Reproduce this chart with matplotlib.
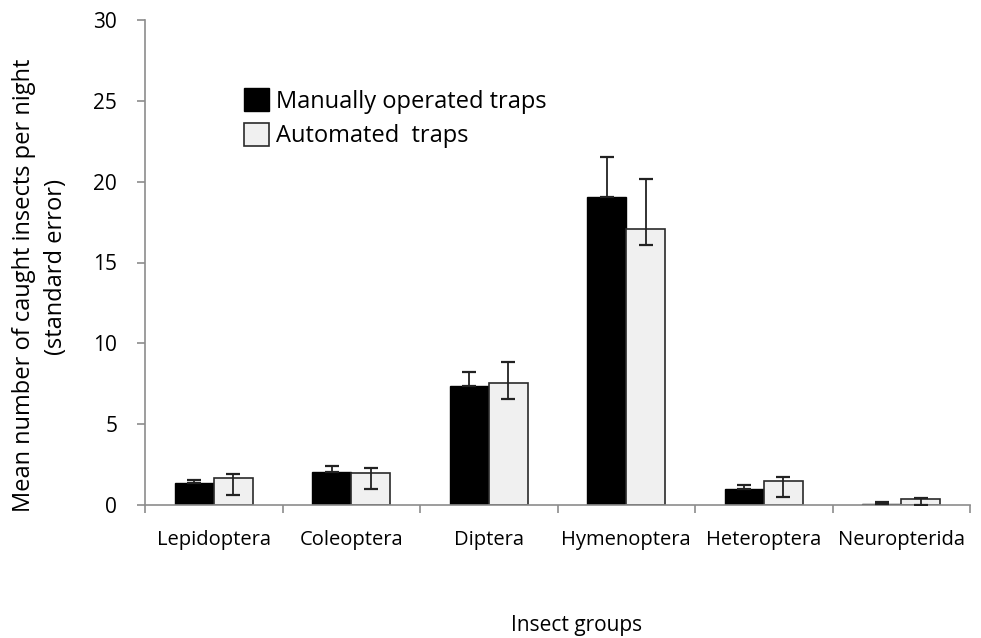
import numpy as np
import matplotlib
matplotlib.use('Agg')
import matplotlib.pyplot as plt

plt.rcParams['font.family'] = ['Open Sans', 'DejaVu Sans']

categories = ['Lepidoptera', 'Coleoptera', 'Diptera', 'Hymenoptera',
              'Heteroptera', 'Neuropterida']
manual = [1.34, 2.04, 7.36, 19.03, 0.99, 0.06]
manual_top = [1.55, 2.39, 8.25, 21.5, 1.26, 0.20]
auto = [1.69, 1.96, 7.56, 17.1, 1.48, 0.35]
auto_top = [1.90, 2.31, 8.82, 20.15, 1.75, 0.43]
auto_bottom = [0.62, 0.97, 6.56, 16.08, 0.47, 0.02]

manual = np.array(manual)
auto = np.array(auto)
man_up = np.array(manual_top) - manual
auto_up = np.array(auto_top) - auto
auto_lo = auto - np.array(auto_bottom)

fig = plt.figure(figsize=(9.81, 6.38), dpi=100)
ax = fig.add_axes([145/981, 1 - 505/638, 825/981, 485/638])

x = np.arange(len(categories)) + 0.5
w = 0.283
axis_col = '#8c8c8c'

ax.bar(x - w/2, manual, w, color='black', edgecolor='black', lw=1.0,
       label='Manually operated traps', zorder=2)
ax.bar(x + w/2, auto, w, color='#f0f0f0', edgecolor='#2a2a2a', lw=1.2,
       label='Automated  traps', zorder=2)
# only the upper half shows over the black bars
ax.errorbar(x - w/2, manual, yerr=[np.zeros_like(man_up), man_up], fmt='none',
            ecolor='#222222', elinewidth=1.3, capsize=5, capthick=1.6, zorder=3)
ax.errorbar(x + w/2, auto, yerr=[auto_lo, auto_up], fmt='none',
            ecolor='#222222', elinewidth=1.3, capsize=5, capthick=1.6, zorder=3)

ax.set_xlim(0, len(categories))
ax.set_ylim(0, 30)
ax.set_yticks(np.arange(0, 31, 5))
ax.set_xticks(np.arange(0, len(categories) + 1))
ax.set_xticklabels([])
ax.set_xticks(x, minor=True)
ax.set_xticklabels(categories, minor=True, fontsize=14.5)
ax.tick_params(axis='x', which='minor', length=0, pad=18)
ax.tick_params(axis='x', which='major', direction='out', length=6,
               color=axis_col, width=1.2)
ax.tick_params(axis='y', direction='out', length=6, color=axis_col,
               width=1.2, labelsize=15, pad=14)

for s in ['top', 'right']:
    ax.spines[s].set_visible(False)
for s in ['left', 'bottom']:
    ax.spines[s].set_color(axis_col)
    ax.spines[s].set_linewidth(1.2)

fig.text(24/981, 1 - 285/638, 'Mean number of caught insects per night',
         fontsize=17, rotation=90, ha='center', va='center')
fig.text(56/981, 1 - 267/638, '(standard error)',
         fontsize=17, rotation=90, ha='center', va='center')
fig.text(577/981, 1 - 625/638, 'Insect groups', fontsize=15,
         ha='center', va='center')

ax.legend(loc='upper left', bbox_to_anchor=(0.094, 0.903), frameon=False,
          fontsize=17, handlelength=1.05, handleheight=1.1,
          handletextpad=0.3, labelspacing=0.4)

fig.savefig('out.png', dpi=100)
